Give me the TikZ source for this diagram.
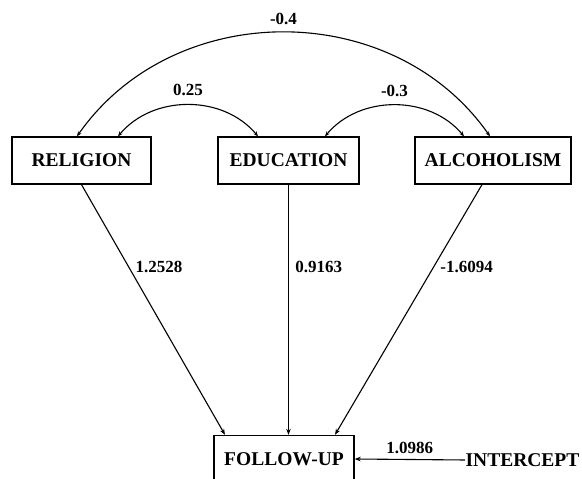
\documentclass[tikz,border=0pt]{standalone}
\usepackage{fontspec}
\setmainfont{Liberation Serif}
\usetikzlibrary{arrows.meta}

\begin{document}
\begin{tikzpicture}[x=1pt, y=1pt,
  var/.style={draw, line width=1.3pt, minimum height=47pt, inner sep=0pt,
    font=\fontsize{19.5}{21}\selectfont\bfseries},
  coef/.style={font=\fontsize{17}{18}\selectfont\bfseries},
  link/.style={line width=1.1pt, -{Stealth[length=6pt,width=4.5pt]}},
  corr/.style={line width=1.1pt,
    {Stealth[length=5pt,width=4pt]}-{Stealth[length=5pt,width=4pt]}}]
\useasboundingbox (0,0) rectangle (582,479);
\node[var, minimum width=139pt] (religion) at (81.5,318.5) {RELIGION};
\node[var, minimum width=141pt] (education) at (288.5,318.5) {EDUCATION};
\node[var, minimum width=156pt] (alcoholism) at (493,318.5) {ALCOHOLISM};
\node[var, minimum width=140pt] (followup) at (284,20) {FOLLOW-UP};
\node[var, draw=none, anchor=west] (intercept) at (465,19) {INTERCEPT};

\draw[corr] ([xshift=-4.5pt]religion.north) to[out=55, in=125, looseness=1.05]
  node[coef, midway, above=4pt] {-0.4} ([xshift=-3pt]alcoholism.north);
\draw[corr] ([xshift=36.5pt]religion.north) to[out=50, in=130]
  node[coef, midway, above=5pt] {0.25} ([xshift=-30.5pt]education.north);
\draw[corr] ([xshift=36.5pt]education.north) to[out=50, in=130]
  node[coef, midway, above=5pt] {-0.3} ([xshift=-29pt]alcoholism.north);

\draw[link] (religion.south) -- ([xshift=-59pt]followup.north)
  node[coef, pos=0.33, right=3pt] {1.2528};
\draw[link] (education.south) -- (education.south |- followup.north)
  node[coef, pos=0.33, right=3pt] {0.9163};
\draw[link] ([xshift=-11pt]alcoholism.south) -- ([xshift=51pt]followup.north)
  node[coef, pos=0.33, right=3pt] {-1.6094};
\draw[link] (intercept.west) -- (followup.east)
  node[coef, midway, above=2pt] {1.0986};
\end{tikzpicture}
\end{document}
